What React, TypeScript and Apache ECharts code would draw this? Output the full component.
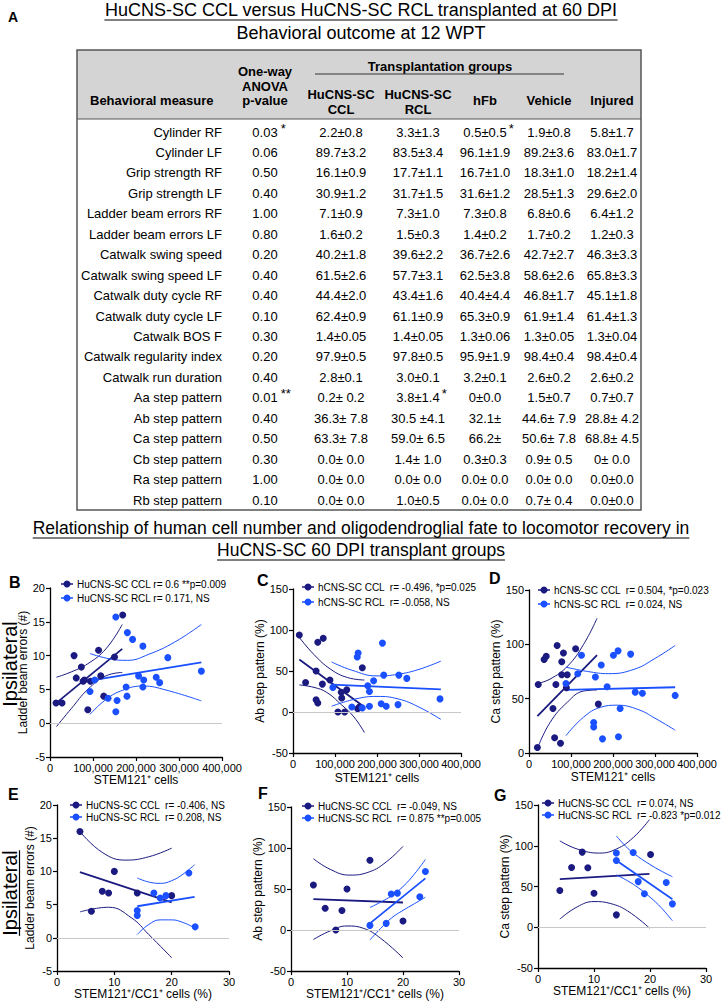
import React, { useEffect, useRef } from "react";
import * as echarts from "echarts";

const FONT = '"Liberation Sans", Arial, Helvetica, sans-serif';
const CCL_COLOR = "#1a1a80";
const RCL_COLOR = "#1a50ff";

// ---------------- Table (panel A) ----------------
const measures = [
  "Cylinder RF", "Cylinder LF", "Grip strength RF", "Grip strength LF",
  "Ladder beam errors RF", "Ladder beam errors LF", "Catwalk swing speed",
  "Catwalk swing speed LF", "Catwalk duty cycle RF", "Catwalk duty cycle LF",
  "Catwalk BOS F", "Catwalk regularity index", "Catwalk run duration",
  "Aa step pattern", "Ab step pattern", "Ca step pattern", "Cb step pattern",
  "Ra step pattern", "Rb step pattern",
];
const pValues = ["0.03", "0.06", "0.50", "0.40", "1.00", "0.80", "0.20", "0.40", "0.40", "0.10", "0.30", "0.20", "0.40", "0.01", "0.40", "0.50", "0.30", "1.00", "0.10"];
const pStars = ["*", "", "", "", "", "", "", "", "", "", "", "", "", "**", "", "", "", "", ""];
const cclValues = ["2.2±0.8", "89.7±3.2", "16.1±0.9", "30.9±1.2", "7.1±0.9", "1.6±0.2", "40.2±1.8", "61.5±2.6", "44.4±2.0", "62.4±0.9", "1.4±0.05", "97.9±0.5", "2.8±0.1", "0.2± 0.2", "36.3± 7.8", "63.3± 7.8", "0.0± 0.0", "0.0± 0.0", "0.0± 0.0"];
const rclValues = ["3.3±1.3", "83.5±3.4", "17.7±1.1", "31.7±1.5", "7.3±1.0", "1.5±0.3", "39.6±2.2", "57.7±3.1", "43.4±1.6", "61.1±0.9", "1.4±0.05", "97.8±0.5", "3.0±0.1", "3.8±1.4", "30.5 ±4.1", "59.0± 6.5", "1.4± 1.0", "0.0± 0.0", "1.0±0.5"];
const rclStars = ["", "", "", "", "", "", "", "", "", "", "", "", "", "*", "", "", "", "", ""];
const hfbValues = ["0.5±0.5", "96.1±1.9", "16.7±1.0", "31.6±1.2", "7.3±0.8", "1.4±0.2", "36.7±2.6", "62.5±3.8", "40.4±4.4", "65.3±0.9", "1.3±0.06", "95.9±1.9", "3.2±0.1", "0±0.0", "32.1±", "66.2±", "0.3±0.3", "0.0± 0.0", "0.0± 0.0"];
const hfbStars = ["*", "", "", "", "", "", "", "", "", "", "", "", "", "", "", "", "", "", ""];
const vehicleValues = ["1.9±0.8", "89.2±3.6", "18.3±1.0", "28.5±1.3", "6.8±0.6", "1.7±0.2", "42.7±2.7", "58.6±2.6", "46.8±1.7", "61.9±1.4", "1.3±0.05", "98.4±0.4", "2.6±0.2", "1.5±0.7", "44.6± 7.9", "50.6± 7.8", "0.9± 0.5", "0.0± 0.0", "0.7± 0.4"];
const injuredValues = ["5.8±1.7", "83.0±1.7", "18.2±1.4", "29.6±2.0", "6.4±1.2", "1.2±0.3", "46.3±3.3", "65.8±3.3", "45.1±1.8", "61.4±1.3", "1.3±0.04", "98.4±0.4", "2.6±0.2", "0.7±0.7", "28.8± 4.2", "68.8± 4.5", "0± 0.0", "0.0±0.0", "0.0±0.0"];
const groupHeaders = [["HuCNS-SC", "CCL"], ["HuCNS-SC", "RCL"], ["hFb"], ["Vehicle"], ["Injured"]];

// ---------------- Scatter panels ----------------
// B: ladder beam errors vs STEM121+ cells
const bCclPts = [[14000, 3.0], [28000, 3.0], [56000, 10.0], [61000, 6.7], [73000, 8.3], [77000, 6.2], [80000, 6.4], [88000, 2.0], [94000, 6.2], [113000, 10.8], [118000, 7.0], [125000, 4.0], [150000, 9.8], [169000, 16.0]];
const bRclPts = [[93000, 4.7], [104000, 6.4], [135000, 3.7], [153000, 1.7], [156000, 3.35], [153000, 15.7], [177000, 5.35], [179000, 4.0], [180000, 13.4], [192000, 12.4], [206000, 7.0], [216000, 11.4], [216000, 5.35], [218000, 6.4], [247000, 6.8], [255000, 6.0], [274000, 9.7], [352000, 7.7]];
const bCclFit = [[15000, 3.0], [168000, 11.0]];
const bCclUp = [[15000, 6.8], [50000, 7.6], [88000, 8.8], [130000, 11.0], [168000, 14.6]];
const bCclLo = [[15000, -0.5], [50000, 2.2], [88000, 5.0], [130000, 7.0], [168000, 7.5]];
const bRclFit = [[93000, 6.3], [352000, 9.0]];
const bRclUp = [[93000, 10.3], [140000, 9.5], [180000, 9.3], [230000, 10.2], [290000, 12.0], [352000, 14.6]];
const bRclLo = [[93000, 1.3], [130000, 3.5], [170000, 4.9], [216000, 5.5], [270000, 4.9], [352000, 3.3]];

// C: Ab step pattern vs STEM121+ cells
const cCclPts = [[15000, 94], [30000, 36], [55000, 50], [55000, 15], [59000, 11], [59000, 85], [70000, 34], [72000, 90], [88000, 39], [107000, 0], [115000, 24], [116000, 17], [123000, 0], [128000, 27], [154000, 4], [158000, 6], [165000, 54]];
const cRclPts = [[95000, 30], [140000, 6], [153000, 67], [155000, 72], [165000, 5], [178000, 32], [182000, 25], [182000, 7], [192000, 38], [210000, 10], [213000, 84], [216000, 45], [222000, 7], [250000, 9], [252000, 45], [271000, 41], [350000, 16]];
const cCclFit = [[15000, 64], [170000, 6]];
const cCclUp = [[15000, 91], [50000, 70], [90000, 52], [130000, 42], [170000, 39]];
const cCclLo = [[15000, 33], [50000, 30], [80000, 24], [115000, 9], [145000, -6], [170000, -25]];
const cRclFit = [[92000, 33.5], [352000, 27.5]];
const cRclUp = [[92000, 61], [140000, 51], [200000, 44], [250000, 46], [300000, 52], [352000, 62]];
const cRclLo = [[92000, 7], [150000, 16], [200000, 19], [250000, 16], [300000, 6], [352000, -9]];

// D: Ca step pattern vs STEM121+ cells
const dCclPts = [[20000, 5], [22000, 63], [36000, 86], [41000, 89], [57000, 41], [61000, 14], [64000, 63], [67000, 99], [75000, 9], [78000, 84], [82000, 92], [78000, 72], [91000, 72], [89000, 60], [111000, 96], [165000, 45]];
const dRclPts = [[88000, 64], [116000, 73], [125000, 90], [154000, 28], [154000, 24], [158000, 70], [172000, 81], [175000, 13], [186000, 61], [201000, 90], [212000, 94], [213000, 15], [217000, 41], [242000, 91], [253000, 56], [270000, 55], [348000, 53]];
const dCclFit = [[20000, 34], [162000, 90]];
const dCclUp = [[20000, 64], [50000, 68], [92000, 80], [130000, 100], [162000, 124]];
const dCclLo = [[20000, 4], [50000, 28], [92000, 47], [130000, 57], [162000, 58]];
const dRclFit = [[88000, 58], [348000, 60.5]];
const dRclUp = [[88000, 79], [140000, 75], [190000, 73], [250000, 77], [300000, 87], [348000, 99]];
const dRclLo = [[88000, 16], [130000, 33], [170000, 42], [210000, 44], [260000, 40], [300000, 32], [348000, 21]];

// E: ladder beam errors vs STEM121+/CC1+ (%)
const eCclPts = [[4, 16], [6, 4], [7.9, 7], [9, 6.75], [10, 10], [14, 6.75], [20, 6.35]];
const eRclPts = [[14, 4.1], [14, 3.35], [16.9, 6.75], [18, 6.0], [19, 6.35], [23, 9.75], [24.1, 1.65]];
const eCclFit = [[4, 9.9], [20, 5.35]];
const eCclUp = [[4, 16], [8, 12.8], [12, 11.7], [16, 12.2], [20, 13.5]];
const eCclLo = [[4, 3.9], [9, 4.6], [13, 3.0], [16, 0.5], [20, -3]];
const eRclFit = [[14, 4.75], [24, 6.15]];
const eRclUp = [[14, 9], [16, 8.4], [18, 8.2], [20, 8.6], [22, 9.6], [24, 11]];
const eRclLo = [[14, 0.5], [16, 2.0], [18, 2.7], [20, 2.7], [22, 2.3], [24, 1.5]];

// F: Ab step pattern vs STEM121+/CC1+ (%)
const fCclPts = [[4, 55], [6.1, 26.6], [8, 0], [9.1, 23.8], [10, 50], [14.1, 85], [20, 11]];
const fRclPts = [[14.1, 5.7], [17, 8.2], [17.9, 43.9], [19, 45], [23, 40.6], [24, 71.3]];
const fCclFit = [[4, 37.7], [20, 33.6]];
const fCclUp = [[4, 87], [7, 74], [10.5, 67], [14, 71], [17, 83], [20, 102]];
const fCclLo = [[4, -11.5], [7, -1], [10, 5], [13, 2], [16, -10], [20, -34]];
const fRclFit = [[14.1, 8.2], [24, 63]];
const fRclUp = [[14.1, 27.5], [16, 34], [18, 42], [20, 53], [22, 68], [24, 86]];
const fRclLo = [[14.1, -12], [16, 2], [18, 15], [20, 24], [22, 32], [24, 40]];

// G: Ca step pattern vs STEM121+/CC1+ (%)
const gCclPts = [[3.9, 45], [6, 73.4], [7.9, 92.2], [8.9, 73], [10, 41.8], [14, 15.2], [20.1, 89.3]];
const gRclPts = [[14, 91], [14, 82], [17, 91.8], [17.9, 56], [19, 41], [22.9, 55], [24, 28.7]];
const gCclFit = [[3.9, 59], [19.9, 65.6]];
const gCclUp = [[3.9, 106], [7, 96], [11, 91], [14, 96], [17, 110], [19.9, 132]];
const gCclLo = [[3.9, 10], [7, 25], [10, 31.5], [13, 29], [16, 20], [19.9, -1]];
const gRclFit = [[14, 82], [24, 34.4]];
const gRclUp = [[14, 112], [16, 97], [18, 86], [20, 77], [22, 69], [24, 62]];
const gRclLo = [[14, 64], [16, 57], [18, 48], [20, 37], [22, 24], [24, 8]];

const legendB = ["HuCNS-SC CCL r= 0.6 **p=0.009", "HuCNS-SC RCL r= 0.171, NS"];
const legendC = ["hCNS-SC CCL  r= -0.496, *p=0.025", "hCNS-SC RCL  r= -0.058, NS"];
const legendD = ["hCNS-SC CCL  r= 0.504, *p=0.023", "hCNS-SC RCL  r= 0.024, NS"];
const legendE = ["HuCNS-SC CCL  r= -0.406, NS", "HuCNS-SC RCL  r= 0.208, NS"];
const legendF = ["HuCNS-SC CCL  r= -0.049, NS", "HuCNS-SC RCL  r= 0.875 **p=0.005"];
const legendG = ["HuCNS-SC CCL  r= 0.074, NS", "HuCNS-SC RCL  r= -0.823 *p=0.012"];

const cellsName = "STEM121\u207A cells";
const pctName = "STEM121\u207A/CC1\u207A cells (%)";

let measureCtx: CanvasRenderingContext2D | null = null;
function textWidth(text: string, size: number, weight = "normal") {
  if (!measureCtx) measureCtx = document.createElement("canvas").getContext("2d");
  if (!measureCtx) return text.length * size * 0.5;
  measureCtx.font = `${weight} ${size}px ${FONT}`;
  return measureCtx.measureText(text).width;
}

function T(text: string, x: number, y: number, o: any = {}) {
  const align = o.align || "center";
  return {
    type: "text", x, y, silent: true, rotation: o.rotation || 0,
    style: {
      text, fontSize: o.size || 13, fontFamily: FONT, fontWeight: o.weight || "normal",
      fill: o.color || "#000", align, textAlign: align, verticalAlign: "middle", textVerticalAlign: "middle",
    },
  };
}
function L(x1: number, y1: number, x2: number, y2: number, w = 1, color = "#000") {
  return { type: "line", silent: true, shape: { x1, y1, x2, y2 }, style: { stroke: color, lineWidth: w } };
}

const panels = [
  { letter: "B", lx: 9, ly: 582, grid: { left: 50, top: 588, width: 172, height: 169 }, xMax: 400000, xInt: 100000, yMin: -5, yMax: 20, yInt: 5, yName: "Ladder beam errors (#)", yGap: 16, xName: cellsName, xGap: 17, ccl: bCclPts, rcl: bRclPts, lines: [bCclFit, bCclUp, bCclLo, bRclFit, bRclUp, bRclLo], legend: legendB, legX: 67, legY: [584, 598] },
  { letter: "C", lx: 257, ly: 580, grid: { left: 293, top: 589, width: 168, height: 164 }, xMax: 400000, xInt: 100000, yMin: -50, yMax: 150, yInt: 50, yName: "Ab step pattern (%)", yGap: 25, xName: cellsName, xGap: 19, ccl: cCclPts, rcl: cRclPts, lines: [cCclFit, cCclUp, cCclLo, cRclFit, cRclUp, cRclLo], legend: legendC, legX: 308, legY: [587, 602] },
  { letter: "D", lx: 489, ly: 578, grid: { left: 529, top: 590, width: 168, height: 163 }, xMax: 400000, xInt: 100000, yMin: 0, yMax: 150, yInt: 50, yName: "Ca step pattern (%)", yGap: 23, xName: cellsName, xGap: 18, ccl: dCclPts, rcl: dRclPts, lines: [dCclFit, dCclUp, dCclLo, dRclFit, dRclUp, dRclLo], legend: legendD, legX: 544, legY: [590, 604] },
  { letter: "E", lx: 8, ly: 794, grid: { left: 57, top: 805, width: 172, height: 167 }, xMax: 30, xInt: 10, yMin: -5, yMax: 20, yInt: 5, yName: "Ladder beam errors (#)", yGap: 17, xName: pctName, xGap: 17, ccl: eCclPts, rcl: eRclPts, lines: [eCclFit, eCclUp, eCclLo, eRclFit, eRclUp, eRclLo], legend: legendE, legX: 76, legY: [805, 817] },
  { letter: "F", lx: 258, ly: 793, grid: { left: 291, top: 807, width: 168, height: 165 }, xMax: 30, xInt: 10, yMin: -50, yMax: 150, yInt: 50, yName: "Ab step pattern (%)", yGap: 23, xName: pctName, xGap: 16, ccl: fCclPts, rcl: fRclPts, lines: [fCclFit, fCclUp, fCclLo, fRclFit, fRclUp, fRclLo], legend: legendF, legX: 308, legY: [806, 818] },
  { letter: "G", lx: 494, ly: 795, grid: { left: 538, top: 805, width: 168, height: 163 }, xMax: 30, xInt: 10, yMin: -50, yMax: 150, yInt: 50, yName: "Ca step pattern (%)", yGap: 22, xName: pctName, xGap: 16, ccl: gCclPts, rcl: gRclPts, lines: [gCclFit, gCclUp, gCclLo, gRclFit, gRclUp, gRclLo], legend: legendG, legX: 548, legY: [803, 815] },
];

function buildOption() {
  const graphic: any[] = [];

  // Titles
  const t1 = "HuCNS-SC CCL versus HuCNS-SC RCL transplanted at 60 DPI";
  graphic.push(T(t1, 361, 10, { size: 18 }));
  const w1 = textWidth(t1, 18);
  graphic.push(L(361 - w1 / 2, 20, 361 + w1 / 2, 20, 1));
  graphic.push(T("A", 13, 17, { size: 14, weight: "bold" }));
  graphic.push(T("Behavioral outcome at 12 WPT", 361, 33, { size: 18 }));

  // Table frame
  const tL = 77, tR = 641, tT = 50, tB = 510, hB = 119;
  graphic.push({ type: "rect", silent: true, shape: { x: tL, y: tT, width: tR - tL, height: hB - tT }, style: { fill: "#d4d4d4" } });
  graphic.push({ type: "rect", silent: true, shape: { x: tL, y: tT, width: tR - tL, height: tB - tT }, style: { fill: "none", stroke: "#555", lineWidth: 1.5 } });
  graphic.push(L(tL, hB, tR, hB, 1.2, "#555"));

  // Header
  const colX = [341, 418, 485, 549, 612];
  const pX = 265;
  const hs = 13;
  graphic.push(T("Behavioral measure", 90, 100, { size: hs, weight: "bold", align: "left" }));
  graphic.push(T("One-way", pX, 71, { size: hs, weight: "bold" }));
  graphic.push(T("ANOVA", pX, 86, { size: hs, weight: "bold" }));
  graphic.push(T("p-value", pX, 100, { size: hs, weight: "bold" }));
  graphic.push(T("Transplantation groups", 440, 66, { size: hs, weight: "bold" }));
  graphic.push(L(315, 74, 564, 74, 1, "#333"));
  groupHeaders.forEach((h, i) => {
    if (h.length === 2) {
      graphic.push(T(h[0], colX[i], 94, { size: hs, weight: "bold" }));
      graphic.push(T(h[1], colX[i], 109, { size: hs, weight: "bold" }));
    } else {
      graphic.push(T(h[0], colX[i], 100, { size: hs, weight: "bold" }));
    }
  });

  // Rows
  const fs = 13;
  const cols = [cclValues, rclValues, hfbValues, vehicleValues, injuredValues];
  const colStars = [null, rclStars, hfbStars, null, null];
  measures.forEach((m, r) => {
    const y = 132 + r * 20.45;
    graphic.push(T(m, 222, y, { size: fs, align: "right" }));
    graphic.push(T(pValues[r], pX, y, { size: fs }));
    if (pStars[r]) {
      const w = textWidth(pValues[r], fs);
      graphic.push(T(pStars[r], pX + w / 2 + 3, y - 4, { size: fs, align: "left" }));
    }
    cols.forEach((c, ci) => {
      graphic.push(T(c[r], colX[ci], y, { size: fs }));
      const st = colStars[ci];
      if (st && st[r]) {
        const w = textWidth(c[r], fs);
        graphic.push(T(st[r], colX[ci] + w / 2 + 2, y - 4, { size: fs, align: "left" }));
      }
    });
  });

  // Section title
  const s1 = "Relationship of human cell number and oligodendroglial fate to locomotor recovery in";
  const s2 = "HuCNS-SC 60 DPI transplant groups";
  const ss = 17.5;
  graphic.push(T(s1, 361, 528, { size: ss }));
  const ws1 = textWidth(s1, ss);
  graphic.push(L(361 - ws1 / 2, 538, 361 + ws1 / 2, 538, 1));
  graphic.push(T(s2, 361, 550, { size: ss }));
  const ws2 = textWidth(s2, ss);
  graphic.push(L(361 - ws2 / 2, 560, 361 + ws2 / 2, 560, 1));

  // Ipsilateral row labels
  graphic.push(T("Ipsilateral", 10, 664, { size: 20, rotation: Math.PI / 2 }));
  graphic.push(T("Ipsilateral", 10, 893, { size: 20, rotation: Math.PI / 2 }));
  const wi = textWidth("Ipsilateral", 20);
  graphic.push(L(19.5, 893 - wi / 2, 19.5, 893 + wi / 2, 1.2));

  const grid: any[] = [];
  const xAxis: any[] = [];
  const yAxis: any[] = [];
  const series: any[] = [];

  const axisCommon = {
    axisLine: { show: true, onZero: false, lineStyle: { color: "#000", width: 1.3 } },
    axisTick: { show: true, length: 4, inside: false, lineStyle: { color: "#000", width: 1.2 } },
    splitLine: { show: false },
    nameLocation: "middle",
    nameTextStyle: { fontSize: 12, color: "#000", fontFamily: FONT },
  };

  panels.forEach((p, i) => {
    grid.push({ ...p.grid, containLabel: false });
    xAxis.push({
      ...axisCommon, type: "value", gridIndex: i, min: 0, max: p.xMax, interval: p.xInt,
      name: p.xName, nameGap: p.xGap,
      axisLabel: { fontSize: 11, color: "#000", fontFamily: FONT, margin: 5, formatter: (v: number) => v.toLocaleString("en-US") },
    });
    yAxis.push({
      ...axisCommon, type: "value", gridIndex: i, min: p.yMin, max: p.yMax, interval: p.yInt,
      name: p.yName, nameGap: p.yGap, nameRotate: 90,
      axisLabel: { fontSize: 11, color: "#000", fontFamily: FONT, margin: 5 },
    });
    const colors = [CCL_COLOR, CCL_COLOR, CCL_COLOR, RCL_COLOR, RCL_COLOR, RCL_COLOR];
    p.lines.forEach((d, k) => {
      series.push({
        type: "line", xAxisIndex: i, yAxisIndex: i, data: d, symbol: "none", showSymbol: false,
        smooth: d.length > 2 ? 0.45 : false, silent: true, z: 2,
        lineStyle: { color: colors[k], width: k % 3 === 0 ? 1.8 : 1 },
      });
    });
    series.push({
      type: "scatter", xAxisIndex: i, yAxisIndex: i, data: p.ccl, symbolSize: 7, silent: true, z: 3,
      itemStyle: { color: CCL_COLOR, opacity: 1 },
      markLine: p.yMin < 0 ? {
        silent: true, symbol: ["none", "none"], label: { show: false }, animation: false,
        lineStyle: { color: "#c8c8c8", width: 1, type: "solid" }, data: [{ yAxis: 0 }],
      } : undefined,
    });
    series.push({
      type: "scatter", xAxisIndex: i, yAxisIndex: i, data: p.rcl, symbolSize: 7, silent: true, z: 3,
      itemStyle: { color: RCL_COLOR, opacity: 1 },
    });

    // panel letter
    graphic.push(T(p.letter, p.lx, p.ly, { size: 16, weight: "bold", align: "left" }));
    // legend
    [CCL_COLOR, RCL_COLOR].forEach((c, k) => {
      const y = p.legY[k];
      graphic.push(L(p.legX - 6, y, p.legX + 6, y, 1.5, c));
      graphic.push({ type: "circle", silent: true, shape: { cx: p.legX, cy: y, r: 3.5 }, style: { fill: c } });
      graphic.push(T(p.legend[k], p.legX + 10, y, { size: 10, align: "left" }));
    });
  });

  return { animation: false, backgroundColor: "#fff", grid, xAxis, yAxis, series, graphic };
}

export default function App() {
  const ref = useRef<HTMLDivElement>(null);
  useEffect(() => {
    if (!ref.current) return;
    const chart = echarts.init(ref.current, null, { renderer: "svg" });
    chart.setOption(buildOption() as any);
    return () => chart.dispose();
  }, []);
  return (
    <div
      ref={ref}
      style={{ position: "absolute", left: 0, top: 0, width: 722, height: 1001, background: "#fff" }}
    />
  );
}
